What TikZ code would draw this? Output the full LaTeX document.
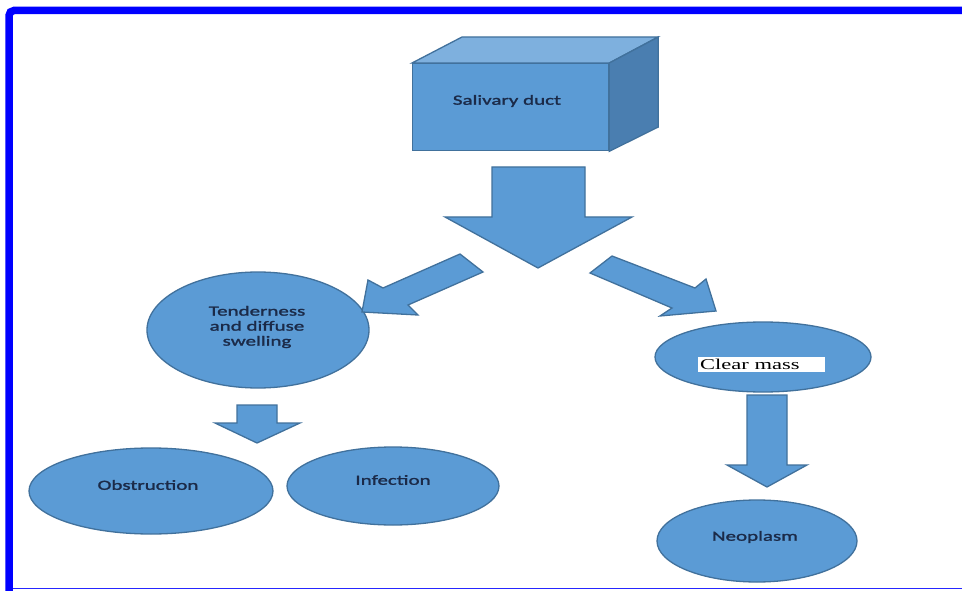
\documentclass[tikz,border=0pt]{standalone}
\usepackage{fontspec}
\setmainfont{Carlito}
\newfontfamily\labfont[FakeStretch=1.5,FakeBold=1.6]{Carlito}
\newfontfamily\serfont[FakeStretch=1.5]{Liberation Serif}
\usetikzlibrary{shapes.geometric}
\definecolor{fillblue}{HTML}{5B9BD5}
\definecolor{edgeblue}{HTML}{41719C}
\definecolor{topblue}{HTML}{7EB0DE}
\definecolor{sideblue}{HTML}{4A7EB0}
\definecolor{txt}{HTML}{1B2A48}
\definecolor{frameblue}{HTML}{0000FF}
\begin{document}
\begin{tikzpicture}[x=1pt,y=-1pt,
  shapebox/.style={fill=fillblue, draw=edgeblue, line width=1.3pt, line join=miter},
  oval/.style={shapebox, ellipse, inner sep=0pt},
  lbl/.style={font=\labfont\fontsize{14}{15}\selectfont, text=txt, align=center, inner sep=0pt}]
\useasboundingbox (0,0) rectangle (962,591);
\fill[white] (0,0) rectangle (962,591);
% frame
\draw[frameblue, line width=7.5pt, rounded corners=5pt] (9,600) -- (9,10.5) -- (975,10.5);
\draw[frameblue!85, line width=1.5pt] (13,588.5) -- (962,588.5);
% cube
\node[shapebox, minimum width=196pt, minimum height=87pt, inner sep=0pt, anchor=north west] (duct) at (412,63) {};
\draw[shapebox, fill=topblue] (duct.north west) -- ++(50,-26) -- ++(196,0) -- (duct.north east) -- cycle;
\draw[shapebox, fill=sideblue] (duct.north east) -- ++(49,-26) -- ++(0,90) -- (duct.south east) -- cycle;
\node[lbl] (ductlbl) at (507,101) {Salivary duct};
% ellipses
\node[oval, minimum width=222pt, minimum height=116pt] (ten) at (258,330) {};
\node[oval, minimum width=244pt, minimum height=86pt] (obs) at (151,491) {};
\node[oval, minimum width=212pt, minimum height=78pt] (inf) at (393,486) {};
\node[oval, minimum width=216pt, minimum height=70pt] (clr) at (763,357) {};
\node[oval, minimum width=200pt, minimum height=82pt] (neo) at (757,541) {};
% labels
\node[lbl] (tenlbl) at (257,327) {Tenderness\\and diffuse\\swelling};
\node[lbl] (obslbl) at (148,485) {Obstruction};
\node[lbl] (inflbl) at (393,480) {Infection};
\node[lbl] (neolbl) at (755,537) {Neoplasm};
\fill[white] (698,357) rectangle (825,372);
\node[font=\serfont\fontsize{15}{15}\selectfont, text=black, inner sep=0pt, anchor=west] (clrlbl) at (700,364.5) {Clear mass};
% block arrows
\draw[shapebox] (492,167) -- (585,167) -- (585,217) -- (632,217) -- (538,268) -- (445,217) -- (492,217) -- cycle;
\draw[shapebox] (460,254) -- (483,272) -- (408,305) -- (418,315) -- (362,312) -- (368,280) -- (383,288) -- cycle;
\draw[shapebox] (612,256) -- (695,288) -- (706,279) -- (716,311) -- (660,316) -- (672,308) -- (590,273) -- cycle;
\draw[shapebox] (237,405) -- (277,405) -- (277,423) -- (300,423) -- (257,443) -- (215,423) -- (237,423) -- cycle;
\draw[shapebox] (747,395) -- (787,395) -- (787,465) -- (807,465) -- (767,487) -- (727,465) -- (747,465) -- cycle;
\end{tikzpicture}
\end{document}
